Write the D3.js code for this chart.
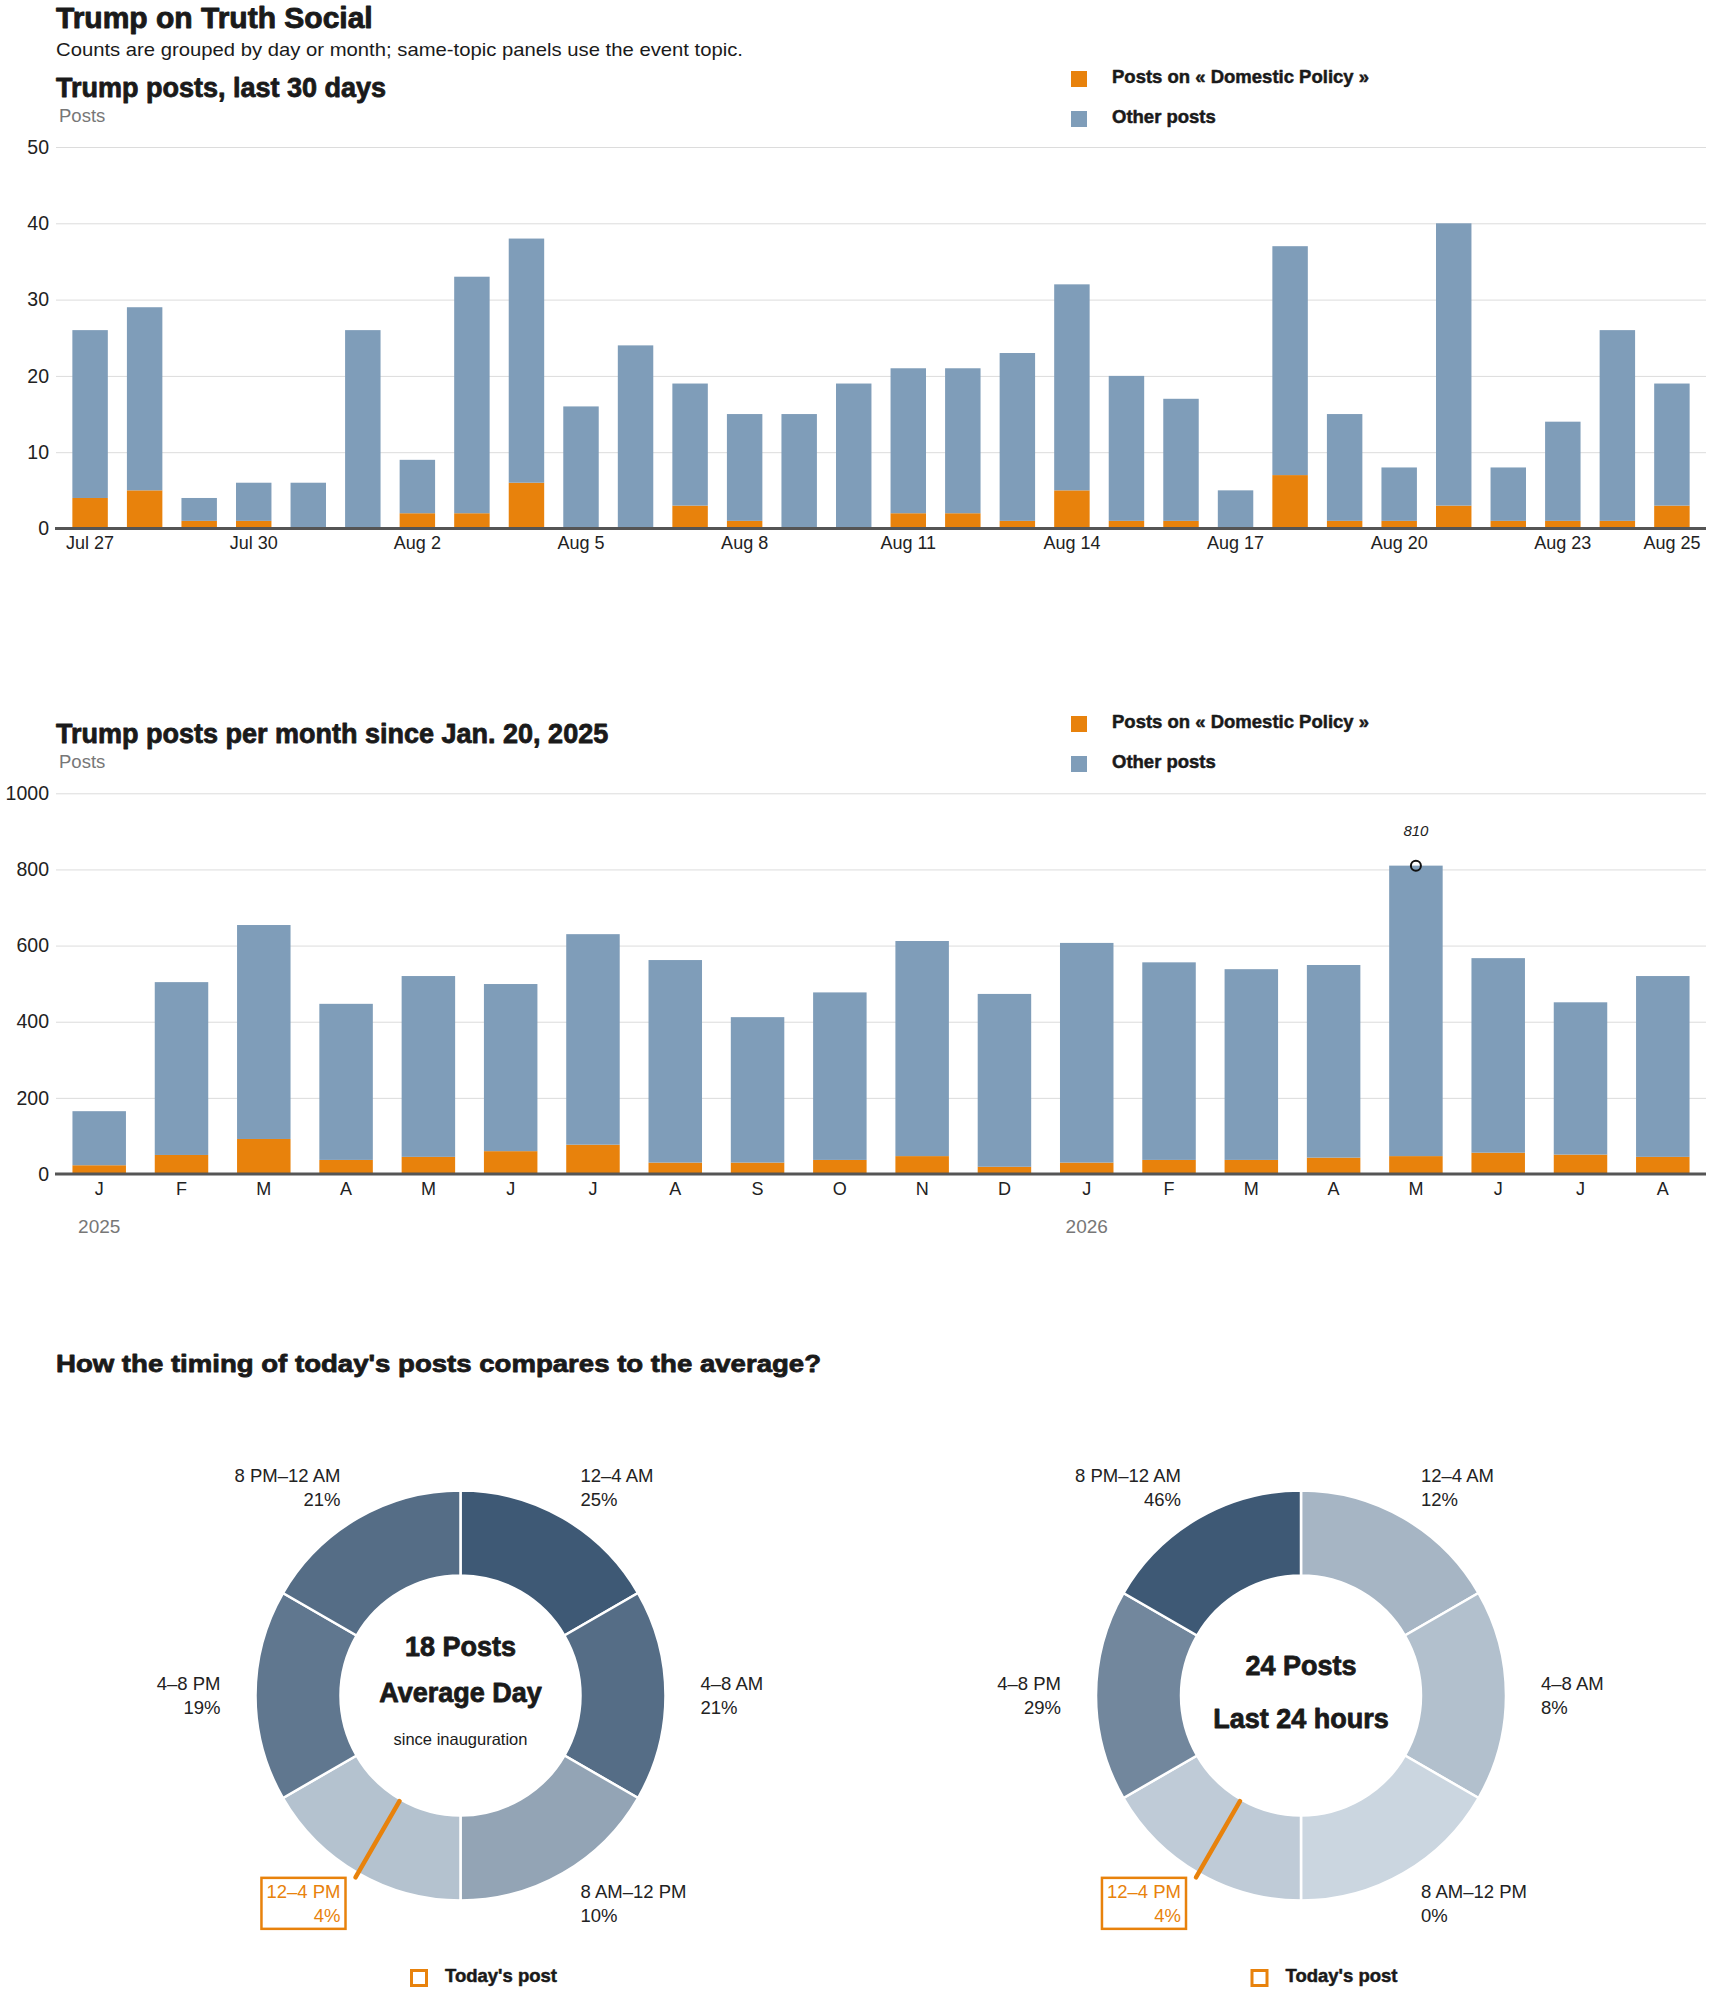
<!DOCTYPE html>
<html><head><meta charset="utf-8">
<script src="https://cdn.jsdelivr.net/npm/d3@7"></script>
<style>
body{margin:0;background:#fff}
svg{display:block}
text{font-family:"Liberation Sans",Arial,Helvetica,sans-serif}
</style>
</head><body>
<svg id="c" width="1710" height="1993"></svg>
<script>
// ---------- DATA ----------
const dayLabels = ["Jul 27","Jul 28","Jul 29","Jul 30","Jul 31","Aug 1","Aug 2","Aug 3","Aug 4","Aug 5","Aug 6","Aug 7","Aug 8","Aug 9","Aug 10","Aug 11","Aug 12","Aug 13","Aug 14","Aug 15","Aug 16","Aug 17","Aug 18","Aug 19","Aug 20","Aug 21","Aug 22","Aug 23","Aug 24","Aug 25"];
const dayTotal = [26,29,4,6,6,26,9,33,38,16,24,19,15,15,19,21,21,23,32,20,17,5,37,15,8,40,8,14,26,19];
const dayTopic = [4,5,1,1,0,0,2,2,6,0,0,3,1,0,0,2,2,1,5,1,1,0,7,1,1,3,1,1,1,3];
const dayTicks = ["Jul 27","Jul 30","Aug 2","Aug 5","Aug 8","Aug 11","Aug 14","Aug 17","Aug 20","Aug 23","Aug 25"];
const dayYTicks = [0,10,20,30,40,50];

const monthKeys = ["2025-01","2025-02","2025-03","2025-04","2025-05","2025-06","2025-07","2025-08","2025-09","2025-10","2025-11","2025-12","2026-01","2026-02","2026-03","2026-04","2026-05","2026-06","2026-07","2026-08"];
const monthLabels = ["J","F","M","A","M","J","J","A","S","O","N","D","J","F","M","A","M","J","J","A"];
const monthTotal = [165,504,654,447,520,499,630,562,412,477,612,473,607,556,538,549,810,567,451,520];
const monthTopic = [23,50,92,37,45,60,77,30,30,37,47,19,30,37,37,43,47,56,51,45];
const monthYTicks = [0,200,400,600,800,1000];
const yearLabels = ["2025","2026"];
const yearStartKeys = ["2025-01","2026-01"];
const peakKey = "2026-05";

const slots = ["12–4 AM","4–8 AM","8 AM–12 PM","12–4 PM","4–8 PM","8 PM–12 AM"];
const avgShare = [25,21,10,4,19,21];
const todayShare = [12,8,0,4,29,46];
const todaySlot = "12–4 PM";
const todayHour = 14;

const legendLabels = ["Posts on « Domestic Policy »","Other posts"];

// ---------- STYLE ----------
const ORANGE = "#e8820c", BLUE = "#7f9db9", INK = "#1a1a1a", GRAY = "#777";
const svg = d3.select("#c");
const X0 = 56, X1 = 1706;

function heavy(sel, w){ return sel.attr("stroke", sel.attr("fill")).attr("stroke-width", w).attr("stroke-linejoin","round").attr("paint-order","stroke"); }

heavy(svg.append("text").attr("x",56).attr("y",28).attr("font-size",30).attr("font-weight",700).attr("fill",INK).text("Trump on Truth Social"),0.9);
svg.append("text").attr("x",56).attr("y",56).attr("font-size",19).attr("fill",INK)
  .attr("textLength",687).attr("lengthAdjust","spacingAndGlyphs")
  .text("Counts are grouped by day or month; same-topic panels use the event topic.");

function legend(yTop){
  const g = svg.append("g");
  [ORANGE,BLUE].forEach((c,i)=>{
    g.append("rect").attr("x",1071).attr("y",yTop+i*40).attr("width",16).attr("height",16).attr("fill",c);
    heavy(g.append("text").attr("x",1112).attr("y",yTop+i*40+11.5).attr("font-size",18.5).attr("font-weight",700).attr("fill",INK).text(legendLabels[i]),0.5);
  });
}

function barChart(o){
  const rows = o.keys.map((k,i)=>({key:k, topic:o.topic[i], other:o.total[i]-o.topic[i]}));
  const x = d3.scaleBand().domain(o.keys).range([X0,X1]).paddingInner(o.pi).paddingOuter(o.po);
  const y = d3.scaleLinear().domain([0,o.max]).range([o.yBase,o.yMax]);
  const g = svg.append("g");
  heavy(svg.append("text").attr("x",56).attr("y",o.titleY).attr("font-size",27).attr("font-weight",700).attr("fill",INK).text(o.title),0.8);
  svg.append("text").attr("x",59).attr("y",o.titleY+25).attr("font-size",18.5).attr("fill",GRAY).text("Posts");
  // grid + y labels
  const ya = d3.axisLeft(y).tickValues(o.yTicks).tickSize(-(X1-X0)).tickPadding(7).tickFormat(d3.format("d"));
  const yg = g.append("g").attr("transform",`translate(${X0},0)`).call(ya);
  yg.select(".domain").remove();
  yg.selectAll(".tick line").attr("stroke","#dcdcdc").attr("stroke-width",1);
  yg.selectAll(".tick text").attr("font-size",19.5).attr("fill","#222").attr("font-family",'"Liberation Sans",Arial,sans-serif');
  // bars
  const stack = d3.stack().keys(["topic","other"])(rows);
  const colors = {topic:ORANGE, other:BLUE};
  stack.forEach(s=>{
    g.append("g").attr("fill",colors[s.key]).selectAll("rect").data(s).join("rect")
      .attr("x",d=>x(d.data.key)).attr("width",x.bandwidth())
      .attr("y",d=>y(d[1])).attr("height",d=>y(d[0])-y(d[1]));
  });
  // baseline
  g.append("line").attr("x1",X0-1).attr("x2",X1).attr("y1",o.yBase).attr("y2",o.yBase).attr("stroke","#555").attr("stroke-width",3);
  // x labels
  const xa = d3.axisBottom(x).tickValues(o.tickKeys).tickSize(0).tickPadding(0).tickFormat(o.fmt);
  const xg = g.append("g").attr("transform",`translate(0,${o.yBase})`).call(xa);
  xg.select(".domain").remove();
  xg.selectAll(".tick text").attr("font-size",18).attr("fill","#222").attr("dy",null).attr("y",20.5)
    .attr("font-family",'"Liberation Sans",Arial,sans-serif');
  return {x,y,g};
}

// ---- chart 1 ----
barChart({keys:dayLabels, topic:dayTopic, total:dayTotal, max:50, yBase:528.5, yMax:147,
  yTicks:dayYTicks, pi:0.35, po:0.3, tickKeys:dayTicks, fmt:d=>d,
  title:"Trump posts, last 30 days", titleY:97});
legend(71);

// ---- chart 2 ----
const m = barChart({keys:monthKeys, topic:monthTopic, total:monthTotal, max:1000, yBase:1174, yMax:793.3,
  yTicks:monthYTicks, pi:0.35, po:0.2, tickKeys:monthKeys, fmt:(d)=>monthLabels[monthKeys.indexOf(d)],
  title:"Trump posts per month since Jan. 20, 2025", titleY:743});
legend(716);
yearLabels.forEach((t,i)=>{
  svg.append("text").attr("x",m.x(yearStartKeys[i])+m.x.bandwidth()/2).attr("y",1233).attr("text-anchor","middle")
    .attr("font-size",19).attr("fill",GRAY).text(t);
});
{
  const pi = monthKeys.indexOf(peakKey);
  const cx = m.x(peakKey)+m.x.bandwidth()/2, cy = m.y(monthTotal[pi]);
  svg.append("circle").attr("cx",cx).attr("cy",cy).attr("r",5).attr("fill","none").attr("stroke","#111").attr("stroke-width",2);
  svg.append("text").attr("x",cx).attr("y",cy-30).attr("text-anchor","middle").attr("font-size",15).attr("font-style","italic")
    .attr("fill","#222").attr("font-family",'"Liberation Sans Narrow","Liberation Sans",Arial,sans-serif').text(monthTotal[pi]);
}

// ---- donuts ----
heavy(svg.append("text").attr("x",56).attr("y",1372).attr("font-size",24.5).attr("font-weight",700).attr("fill",INK)
  .attr("textLength",765).attr("lengthAdjust","spacingAndGlyphs")
  .text("How the timing of today's posts compares to the average?"),0.8);

function donut(cx, cy, shares, lines){
  const g = svg.append("g").attr("transform",`translate(${cx},${cy})`);
  const color = d3.scaleLinear().domain([0,d3.max(shares)]).range(["#cbd6e0","#3e5975"]);
  const pie = d3.pie().value(()=>1).sort(null);
  const arcs = pie(slots.map((s,i)=>({slot:s, v:shares[i]})));
  const arc = d3.arc().innerRadius(120).outerRadius(205);
  g.selectAll("path").data(arcs).join("path").attr("d",arc).attr("fill",d=>color(d.data.v)).attr("stroke","#fff").attr("stroke-width",2.5);
  // needle
  const a = todayHour/24*2*Math.PI;
  g.append("line").attr("x1",Math.sin(a)*122).attr("y1",-Math.cos(a)*122).attr("x2",Math.sin(a)*210).attr("y2",-Math.cos(a)*210)
    .attr("stroke",ORANGE).attr("stroke-width",4.5).attr("stroke-linecap","round");
  // labels
  arcs.forEach(d=>{
    const mid = (d.startAngle+d.endAngle)/2;
    const lx = Math.sin(mid)*240, ly = -Math.cos(mid)*240;
    const right = mid < Math.PI;
    const hi = d.data.slot === todaySlot;
    const lg = g.append("g");
    const t = lg.append("text").attr("text-anchor", right?"start":"end").attr("font-size",18.5).attr("fill",hi?ORANGE:"#222");
    t.append("tspan").attr("x",lx).attr("y",ly-5.5).text(d.data.slot);
    t.append("tspan").attr("x",lx).attr("y",ly+18.5).text(d.data.v+"%");
    if(hi){
      const b = t.node().getBBox();
      lg.insert("rect","text").attr("x",b.x-5).attr("y",b.y-3).attr("width",b.width+10).attr("height",b.height+6)
        .attr("fill","none").attr("stroke",ORANGE).attr("stroke-width",2.5);
    }
  });
  lines.forEach(l=>{
    const t = g.append("text").attr("x",0).attr("y",l.y).attr("text-anchor","middle").attr("font-size",l.size)
      .attr("font-weight",l.bold?700:400).attr("fill",INK).text(l.t);
    if(l.bold) heavy(t,0.8);
  });
  // legend
  g.append("rect").attr("x",-49).attr("y",1970.5-cy).attr("width",15).attr("height",15).attr("fill","#fff").attr("stroke",ORANGE).attr("stroke-width",3);
  heavy(g.append("text").attr("x",-15.5).attr("y",1982-cy).attr("font-size",18.5).attr("font-weight",700).attr("fill",INK).text("Today's post"),0.5);
}
donut(460.5, 1695.5, avgShare, [
  {t:"18 Posts", y:-40, size:27, bold:true},
  {t:"Average Day", y:6.5, size:27, bold:true},
  {t:"since inauguration", y:49.5, size:16.5, bold:false}
]);
donut(1301, 1695.5, todayShare, [
  {t:"24 Posts", y:-21, size:27, bold:true},
  {t:"Last 24 hours", y:32.5, size:27, bold:true}
]);
</script>
</body></html>
